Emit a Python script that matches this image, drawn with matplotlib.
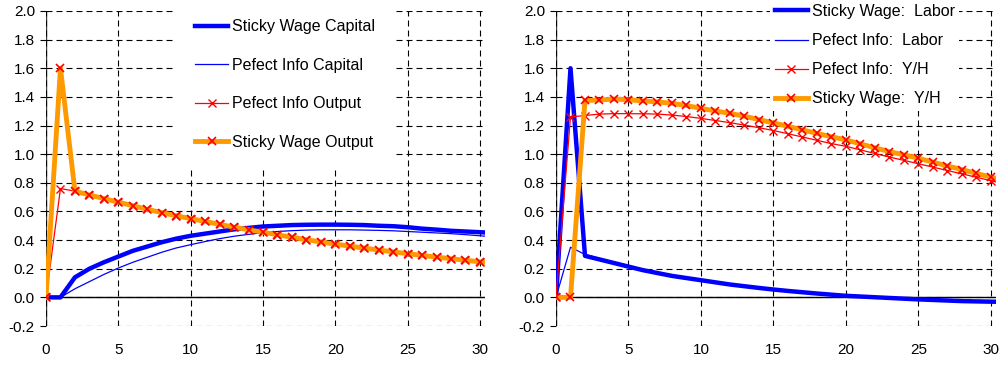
import matplotlib
matplotlib.use("Agg")
import matplotlib.pyplot as plt
import numpy as np

plt.rcParams['font.family'] = ['Liberation Sans', 'DejaVu Sans']

periods = list(range(0, 32))

# Left panel
sticky_capital = [0, 0, 0.14, 0.20, 0.245, 0.285, 0.325, 0.355, 0.385, 0.41, 0.43, 0.445, 0.46,
                  0.475, 0.485, 0.495, 0.50, 0.505, 0.507, 0.508, 0.508, 0.507, 0.505, 0.50,
                  0.497, 0.49, 0.48, 0.473, 0.465, 0.46, 0.455, 0.45]
perfect_capital = [0, 0, 0.06, 0.11, 0.16, 0.205, 0.245, 0.28, 0.315, 0.345, 0.368, 0.39, 0.41,
                   0.427, 0.44, 0.452, 0.46, 0.466, 0.47, 0.472, 0.472, 0.472, 0.47, 0.468,
                   0.465, 0.46, 0.455, 0.45, 0.445, 0.438, 0.43, 0.423]
perfect_output = [0, 0.76, 0.742, 0.715, 0.69, 0.665, 0.64, 0.615, 0.592, 0.57, 0.55, 0.53, 0.51,
                  0.49, 0.472, 0.455, 0.437, 0.42, 0.403, 0.387, 0.372, 0.358, 0.344, 0.331,
                  0.318, 0.305, 0.293, 0.281, 0.27, 0.259, 0.248, 0.238]
sticky_output = [0, 1.6, 0.742, 0.715, 0.69, 0.665, 0.64, 0.615, 0.592, 0.57, 0.55, 0.53, 0.51,
                 0.49, 0.472, 0.455, 0.437, 0.42, 0.403, 0.387, 0.372, 0.358, 0.344, 0.331,
                 0.318, 0.305, 0.293, 0.281, 0.27, 0.259, 0.248, 0.238]

# Right panel
sticky_labor = [0, 1.6, 0.29, 0.265, 0.24, 0.215, 0.19, 0.17, 0.15, 0.135, 0.12, 0.105, 0.09,
                0.078, 0.066, 0.055, 0.045, 0.036, 0.027, 0.019, 0.011, 0.006, 0.001, -0.004,
                -0.009, -0.014, -0.018, -0.022, -0.026, -0.028, -0.03, -0.031]
perfect_labor = [0, 0.35, 0.30, 0.272, 0.246, 0.221, 0.197, 0.176, 0.156, 0.139, 0.123, 0.108,
                 0.094, 0.081, 0.069, 0.058, 0.048, 0.039, 0.03, 0.022, 0.014, 0.008, 0.003,
                 -0.002, -0.007, -0.012, -0.016, -0.02, -0.024, -0.027, -0.029, -0.03]
perfect_yh = [0, 1.26, 1.27, 1.28, 1.283, 1.283, 1.282, 1.28, 1.273, 1.263, 1.25, 1.235, 1.22,
              1.203, 1.185, 1.165, 1.143, 1.12, 1.097, 1.074, 1.055, 1.03, 1.005, 0.98, 0.957,
              0.933, 0.91, 0.886, 0.863, 0.839, 0.815, 0.79]
sticky_yh = [0, 0, 1.375, 1.378, 1.385, 1.38, 1.372, 1.365, 1.355, 1.34, 1.32, 1.302, 1.285,
             1.265, 1.242, 1.218, 1.195, 1.17, 1.145, 1.122, 1.1, 1.072, 1.045, 1.018, 0.995,
             0.972, 0.945, 0.918, 0.893, 0.866, 0.84, 0.815]

x_ticks = [0, 5, 10, 15, 20, 25, 30]
y_ticks = [-0.2, 0.0, 0.2, 0.4, 0.6, 0.8, 1.0, 1.2, 1.4, 1.6, 1.8, 2.0]

BLUE = '#0000FF'
ORANGE = '#FF9900'
RED = '#FF0000'

fig = plt.figure(figsize=(10, 3.65), dpi=100)
axL = fig.add_axes([0.046, 0.1068, 0.439, 0.8631])
axR = fig.add_axes([0.556, 0.1068, 0.4398, 0.8631])

def style(ax):
    ax.set_xlim(0, 30.35)
    ax.set_ylim(-0.2, 2.0)
    for s in ax.spines.values():
        s.set_visible(False)
    ax.set_xticks(x_ticks)
    ax.set_yticks(y_ticks)
    ax.set_yticklabels([f"{v:.1f}" for v in y_ticks])
    ax.grid(True, color='black', linestyle=(0, (5.4, 3.6)), linewidth=0.8)
    ax.tick_params(axis='x', length=0, pad=12, labelsize=11, colors='black')
    ax.tick_params(axis='y', length=4, width=0.8, pad=4, labelsize=11, colors='black')
    ax.axhline(0, color='black', linewidth=1.0, zorder=1.5)
    ax.axvline(0, color='#404040', linewidth=1.0, zorder=1.5)

style(axL)
style(axR)

axL.plot(periods, sticky_capital, color=BLUE, lw=3.2, label='Sticky Wage Capital')
axL.plot(periods, perfect_capital, color=BLUE, lw=0.9, label='Pefect Info Capital')
axL.plot(periods, perfect_output, color=RED, lw=0.9, marker='x', ms=6, mew=1,
         label='Pefect Info Output')
axL.plot(periods, sticky_output, color=ORANGE, lw=3.5, marker='x', ms=6, mew=1.2,
         mec=RED, label='Sticky Wage Output')

axR.plot(periods, sticky_labor, color=BLUE, lw=3.2, label='Sticky Wage:  Labor')
axR.plot(periods, perfect_labor, color=BLUE, lw=0.9, label='Pefect Info:  Labor')
axR.plot(periods, perfect_yh, color=RED, lw=0.9, marker='x', ms=6, mew=1,
         label='Pefect Info:  Y/H')
axR.plot(periods, sticky_yh, color=ORANGE, lw=3.5, marker='x', ms=6, mew=1.2,
         mec=RED, label='Sticky Wage:  Y/H')

legL = axL.legend(loc='upper left', bbox_to_anchor=(0.176, 1.0), bbox_transform=fig.transFigure,
                  frameon=True, facecolor='white', edgecolor='none', framealpha=1,
                  fancybox=False, fontsize=11.5, labelspacing=1.48, handlelength=2.06,
                  handletextpad=0.25, borderpad=1.2, borderaxespad=0)
legR = axR.legend(loc='upper left', bbox_to_anchor=(0.770, 1.002), bbox_transform=fig.transFigure,
                  frameon=True, facecolor='white', edgecolor='none', framealpha=1,
                  fancybox=False, fontsize=11.5, labelspacing=0.88, handlelength=2.06,
                  handletextpad=0.25, borderpad=0.3, borderaxespad=0)
for leg in (legL, legR):
    leg.set_zorder(10)

fig.savefig('out.png', dpi=100)
